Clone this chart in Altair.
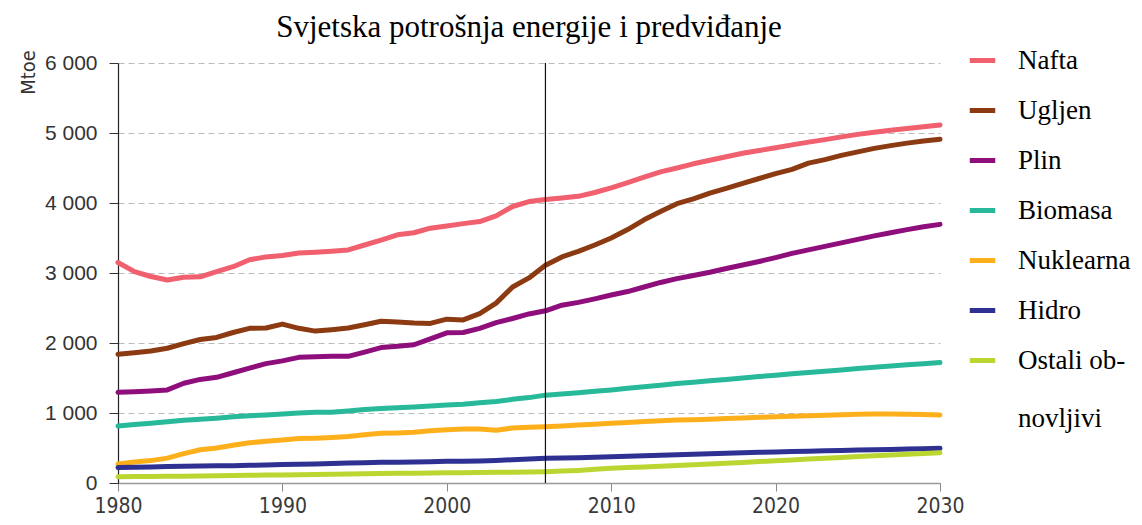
import altair as alt
import pandas as pd

years = list(range(1980, 2031))

nafta = [3150, 3020, 2950, 2900, 2940, 2945, 3020, 3090, 3190, 3230,
         3250, 3285, 3295, 3310, 3330, 3400, 3470, 3545, 3575, 3640,
         3670, 3705, 3735, 3815, 3950, 4020, 4050, 4070, 4095, 4150,
         4215, 4290, 4370, 4445, 4500, 4560, 4610, 4660, 4710, 4750,
         4790, 4830, 4870, 4905, 4945, 4980, 5010, 5040, 5065, 5090, 5115]
ugljen = [1840, 1860, 1885, 1925, 1990, 2050, 2080, 2150, 2210, 2215,
          2270, 2210, 2170, 2190, 2215, 2260, 2310, 2300, 2285, 2280,
          2340, 2330, 2420, 2570, 2800, 2930, 3110, 3230, 3310, 3400,
          3500, 3620, 3760, 3880, 3990, 4060, 4140, 4210, 4280, 4350,
          4420, 4480, 4570, 4620, 4680, 4730, 4780, 4820, 4855, 4885, 4910]
plin = [1295, 1305, 1315, 1330, 1425, 1480, 1510, 1575, 1640, 1705,
        1745, 1795, 1805, 1810, 1810, 1870, 1935, 1955, 1975, 2060,
        2145, 2150, 2210, 2290, 2350, 2415, 2460, 2540, 2580, 2630,
        2685, 2735, 2800, 2865, 2920, 2965, 3010, 3065, 3115, 3165,
        3220, 3280, 3330, 3380, 3430, 3480, 3530, 3575, 3620, 3660, 3695]
biomasa = [815, 835, 855, 875, 895, 910, 925, 945, 960, 970,
           985, 1000, 1010, 1010, 1030, 1050, 1065, 1075, 1085, 1100,
           1115, 1125, 1145, 1165, 1195, 1220, 1255, 1270, 1290, 1310,
           1330, 1355, 1375, 1395, 1420, 1440, 1460, 1480, 1500, 1520,
           1540, 1560, 1580, 1595, 1615, 1635, 1655, 1670, 1690, 1705, 1720]
nuklearna = [270, 300, 320, 355, 420, 475, 500, 540, 575, 595,
             615, 635, 640, 650, 665, 690, 710, 715, 725, 745,
             760, 770, 770, 755, 785, 795, 805, 815, 830, 840,
             852, 865, 878, 890, 900, 905, 912, 920, 930, 938,
             945, 952, 960, 967, 975, 982, 985, 985, 982, 978, 972]
hidro = [220, 225, 230, 235, 240, 243, 245, 248, 252, 258,
         265, 268, 272, 280, 285, 290, 295, 298, 300, 305,
         310, 312, 315, 322, 332, 342, 352, 357, 362, 368,
         375, 382, 390, 397, 404, 412, 418, 425, 432, 438,
         444, 450, 455, 460, 465, 470, 475, 480, 485, 490, 495]
ostali = [90, 92, 94, 96, 98, 100, 103, 106, 110, 113,
          116, 119, 122, 125, 128, 132, 136, 138, 140, 143,
          146, 148, 150, 152, 155, 158, 162, 170, 180, 195,
          210, 220, 230, 240, 250, 260, 270, 282, 294, 306,
          318, 330, 342, 354, 366, 378, 390, 400, 410, 420, 433]

series_names = ["Nafta", "Ugljen", "Plin", "Biomasa", "Nuklearna", "Hidro", "Ostali obnovljivi"]
series_values = [nafta, ugljen, plin, biomasa, nuklearna, hidro, ostali]
series_colors = ["#F0606E", "#8B3A12", "#8E0E7C", "#27B99A", "#FDB01C", "#2E3192", "#BCD631"]

x_ticks = [1980, 1990, 2000, 2010, 2020, 2030]
y_ticks = [0, 1000, 2000, 3000, 4000, 5000, 6000]
divider_year = [2006]

rows = []
for name, vals in zip(series_names, series_values):
    for yr, v in zip(years, vals):
        rows.append({"year": yr, "value": v, "series": name})
df = pd.DataFrame(rows)

narrow_font = "DejaVu Sans Condensed"
sans_font = "Liberation Sans"

x_enc = alt.X("year:Q",
              scale=alt.Scale(domain=[1980, 2030], nice=False, zero=False),
              axis=alt.Axis(values=x_ticks, format="d", title=None, grid=False,
                            labelFont=narrow_font, labelFontSize=21, labelColor="#3A3A3A",
                            labelPadding=4, tickSize=8, tickColor="#888888",
                            domainColor="#999999", domainWidth=1.5, labelFlush=False))
y_enc = alt.Y("value:Q",
              scale=alt.Scale(domain=[0, 6000], nice=False),
              axis=alt.Axis(values=y_ticks, title="Mtoe", titleAngle=-90,
                            titleFont=narrow_font, titleFontSize=20, titleFontWeight="normal",
                            titleColor="#333333", titleX=-90, titleY=9, titleAlign="center",
                            titleBaseline="middle",
                            labelExpr="replace(format(datum.value, ','), ',', ' ')",
                            labelFont=sans_font, labelFontSize=21, labelColor="#333333",
                            labelPadding=12, tickSize=9, tickColor="#333333",
                            domainColor="#222222", domainWidth=1.2,
                            grid=True, gridDash=[6, 4], gridColor="#BBBBBB", gridWidth=1.2))

lines = alt.Chart(df).mark_line(strokeWidth=5, strokeCap="round", strokeJoin="round").encode(
    x=x_enc,
    y=y_enc,
    color=alt.Color("series:N",
                    scale=alt.Scale(domain=series_names, range=series_colors),
                    sort=series_names,
                    legend=alt.Legend(orient="none", legendX=849, legendY=-18, title=None,
                                      symbolType="stroke", symbolStrokeWidth=5, symbolSize=650,
                                      labelFont="Liberation Serif", labelFontSize=27,
                                      labelColor="black", labelOffset=20, rowPadding=21,
                                      labelLimit=300,
                                      labelExpr="datum.label == 'Ostali obnovljivi' ? ['Ostali ob-', '\u2800', 'novljivi'] : datum.label")),
)

rule = alt.Chart(pd.DataFrame({"year": divider_year})).mark_rule(color="#111111", strokeWidth=1.2).encode(
    x="year:Q"
)

chart = alt.layer(lines, rule).properties(
    width=822,
    height=420,
    autosize=alt.AutoSizeParams(type="none"),
    padding={"left": 110, "top": 55, "right": 194, "bottom": 34},
    title=alt.TitleParams("Svjetska potrošnja energije i predviđanje",
                          font="Liberation Serif", fontSize=31, fontWeight="normal",
                          color="black", anchor="middle", offset=1),
).configure_view(stroke=None)

chart.save("out.html", embed_options={"renderer": "svg", "actions": False})
